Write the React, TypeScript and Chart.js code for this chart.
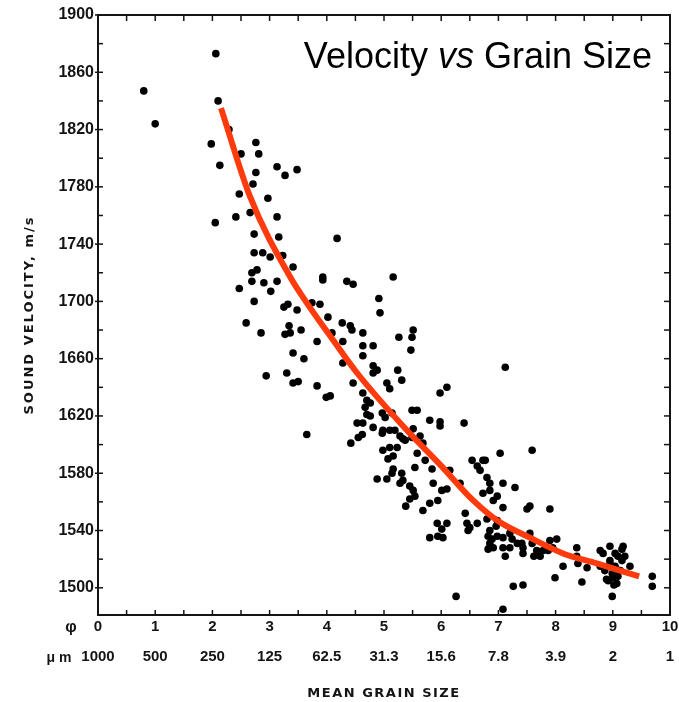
import React, { useEffect, useRef } from 'react';
import { Chart, registerables } from 'chart.js';

Chart.register(...registerables);

// ---- axis ticks ----
const phiTicks = [0, 1, 2, 3, 4, 5, 6, 7, 8, 9, 10];
const micronLabels = ['1000', '500', '250', '125', '62.5', '31.3', '15.6', '7.8', '3.9', '2', '1'];
const velocityTicks = [1500, 1540, 1580, 1620, 1660, 1700, 1740, 1780, 1820, 1860, 1900];

// ---- text ----
const titleParts = ['Velocity ', 'vs', ' Grain Size'];
const yTitle = 'SOUND VELOCITY, m/s';
const xTitle = 'MEAN GRAIN SIZE';
const phiSymbol = 'φ';
const micronSymbol = 'μ m';

// ---- scatter samples (mean grain size in phi, sound velocity m/s) ----
const grainPhi = [
  0.80, 1.00, 2.06, 2.10, 2.29, 1.98, 2.76, 2.50, 2.81, 2.13,
  2.76, 3.13, 3.27, 3.48, 2.71, 2.47, 2.97, 2.05, 2.41, 2.66,
  3.13, 2.73, 3.16, 4.18, 2.73, 2.88, 3.01, 3.23, 3.41, 2.69,
  2.78, 3.93, 3.93, 2.47, 2.69, 2.90, 3.13, 3.02, 2.73, 4.35,
  4.46, 2.59, 2.85, 3.25, 3.32, 3.48, 3.74, 3.88, 4.02, 3.34,
  3.27, 3.36, 3.55, 3.83, 3.41, 3.60, 2.94, 3.30, 3.41, 3.50,
  3.83, 3.99, 4.06, 3.65, 4.09, 4.27, 4.41, 4.44, 4.28, 4.28,
  4.46, 4.53, 4.42, 4.55,
  5.16, 4.91, 4.93, 4.63, 5.26, 5.51, 5.49, 5.47, 4.63, 4.81,
  4.63, 4.81, 4.88, 4.81, 5.24, 5.31, 5.05, 5.10, 4.63, 4.70,
  4.67, 5.98, 6.10, 5.49, 5.58, 4.97, 5.02, 4.76, 4.63, 4.81,
  4.98, 5.80, 5.98, 5.98, 6.40, 4.62, 5.19, 5.28, 5.37, 4.98,
  5.07, 5.23, 5.58, 5.68, 5.51, 7.03, 7.59, 7.12, 6.54, 6.73,
  4.70, 4.76, 5.14, 5.10, 5.10, 5.16, 5.72, 5.16, 5.14, 5.31,
  5.33, 5.54, 4.88, 5.05, 5.28, 5.45, 5.51, 5.54, 5.45, 5.84,
  5.86, 6.01, 6.10, 6.15, 6.33, 5.80, 5.94, 5.68, 5.38, 5.93,
  6.10, 6.01, 5.94, 5.80, 6.03, 6.42, 6.45, 6.47, 6.63, 6.68,
  6.77, 6.80, 6.85, 6.73, 6.85, 6.98, 6.91, 6.80, 6.98, 6.82,
  6.85, 6.82, 6.26, 4.97, 5.33, 5.49, 5.63,
  7.08, 7.26, 7.43, 7.99, 8.46, 8.99, 9.69, 9.69, 9.30, 8.78,
  8.95, 9.18, 8.83, 8.95, 9.04, 9.13, 8.86, 8.99, 9.09, 8.92,
  9.16, 9.21, 8.78, 9.04, 9.16, 9.09, 9.00, 8.89, 9.07, 9.02,
  8.95, 9.11, 8.37, 8.39, 8.55, 8.37, 8.13, 7.87, 8.02, 7.90,
  7.55, 7.50, 7.29, 7.08, 7.08, 6.85, 6.89, 6.98, 7.08, 7.24,
  7.33, 7.41, 7.55, 7.59, 7.67, 7.78, 6.63, 6.50, 6.96, 7.08,
  7.20, 6.91, 7.20, 7.43, 7.95, 7.90, 7.12, 7.43, 7.62, 7.73,
];
const velocity = [
  1847, 1824, 1873, 1840, 1820, 1810, 1811, 1803, 1803, 1795,
  1790, 1794, 1788, 1792, 1782, 1775, 1772, 1755, 1759, 1762,
  1759, 1747, 1745, 1744, 1734, 1734, 1731, 1732, 1724, 1720,
  1722, 1717, 1715, 1709, 1714, 1713, 1714, 1707, 1700, 1714,
  1712, 1685, 1678, 1696, 1698, 1694, 1699, 1698, 1689, 1683,
  1677, 1678, 1680, 1672, 1664, 1660, 1648, 1650, 1643, 1644,
  1641, 1633, 1634, 1607, 1678, 1685, 1683, 1680, 1672, 1657,
  1643, 1615, 1601, 1605,
  1717, 1702, 1692, 1678, 1675, 1680, 1675, 1666, 1669, 1669,
  1662, 1655, 1652, 1650, 1652, 1645, 1643, 1639, 1636, 1631,
  1626, 1636, 1640, 1624, 1624, 1622, 1619, 1620, 1615, 1612,
  1610, 1617, 1616, 1613, 1615, 1607, 1610, 1606, 1603, 1596,
  1590, 1598, 1594, 1601, 1611, 1594, 1596, 1654, 1589, 1589,
  1621, 1629, 1622, 1610, 1598, 1592, 1589, 1583, 1580, 1580,
  1575, 1584, 1576, 1576, 1573, 1571, 1568, 1564, 1562, 1583,
  1573, 1568, 1569, 1582, 1573, 1559, 1561, 1554, 1557, 1545,
  1545, 1541, 1536, 1535, 1535, 1552, 1545, 1540, 1585, 1582,
  1589, 1577, 1573, 1566, 1568, 1564, 1561, 1548, 1547, 1536,
  1531, 1527, 1494, 1608, 1604, 1605, 1606,
  1485, 1501, 1502, 1507, 1504, 1494, 1508, 1501, 1515, 1526,
  1529, 1529, 1524, 1519, 1515, 1512, 1512, 1510, 1508, 1505,
  1519, 1522, 1515, 1524, 1527, 1522, 1507, 1506, 1503, 1502,
  1517, 1512, 1528, 1517, 1514, 1522, 1515, 1526, 1534, 1555,
  1557, 1555, 1570, 1573, 1556, 1540, 1534, 1536, 1528, 1534,
  1531, 1531, 1538, 1531, 1526, 1526, 1545, 1542, 1543, 1535,
  1538, 1528, 1528, 1528, 1528, 1533, 1522, 1524, 1522, 1522,
];

// ---- fitted curve ----
const fitPhi = [2.15, 2.66, 3.36, 3.65, 4.11, 4.53, 5.40, 5.98, 6.56, 6.98, 7.55, 8.13, 8.72, 9.46];
const fitVelocity = [1835, 1773, 1717, 1699, 1673, 1650, 1610, 1586, 1561, 1547, 1535, 1524, 1517, 1508];

const TICK_FONT = '"Liberation Sans", Arial, sans-serif';
const LABEL_FONT = '"DejaVu Sans", "Liberation Sans", sans-serif';
const INK = '#141414';
const RED = '#ff3a0c';

const decorPlugin = {
  id: 'decor',
  afterDatasetsDraw(chart: any) {
    const { ctx, chartArea: a, scales } = chart;
    const xs = scales.x;
    const ys = scales.y;
    const x2 = scales.x2;
    ctx.save();
    ctx.strokeStyle = INK;
    // frame
    ctx.lineWidth = 2;
    ctx.strokeRect(a.left, a.top, a.right - a.left, a.bottom - a.top);
    // ticks
    ctx.lineWidth = 1.5;
    const line = (x1: number, y1: number, x2p: number, y2: number) => {
      ctx.beginPath();
      ctx.moveTo(x1, y1);
      ctx.lineTo(x2p, y2);
      ctx.stroke();
    };
    for (let v = 0; v <= 10.001; v += 0.5) {
      const px = xs.getPixelForValue(v);
      line(px, a.bottom, px, a.bottom - 5);
      line(px, a.top, px, a.top + 6);
    }
    for (let v = 1500; v <= 1900; v += 20) {
      const py = ys.getPixelForValue(v);
      const major = (v - 1500) % 40 === 0;
      line(a.left - (major ? 3 : 0), py, a.left + 5, py);
      line(a.right, py, a.right - 6, py);
    }
    // title
    ctx.fillStyle = '#000';
    ctx.textBaseline = 'alphabetic';
    ctx.textAlign = 'left';
    const fonts = [
      '36px "Liberation Sans", Arial, sans-serif',
      'italic 36px "Liberation Sans", Arial, sans-serif',
      '36px "Liberation Sans", Arial, sans-serif',
    ];
    let total = 0;
    const widths = titleParts.map((t, i) => {
      ctx.font = fonts[i];
      const w = ctx.measureText(t).width;
      total += w;
      return w;
    });
    let tx = a.right - 18 - total;
    const ty = a.top + 53;
    titleParts.forEach((t, i) => {
      ctx.font = fonts[i];
      ctx.fillText(t, tx, ty);
      tx += widths[i];
    });
    // axis symbols and titles
    ctx.fillStyle = INK;
    ctx.textAlign = 'center';
    ctx.textBaseline = 'middle';
    ctx.font = 'bold 16px ' + TICK_FONT;
    const x0 = xs.getPixelForValue(0);
    ctx.fillText(phiSymbol, x0 - 27, xs.top + 13);
    ctx.font = 'bold 14px ' + TICK_FONT;
    ctx.fillText(micronSymbol, x0 - 39, x2.top + 13);

    (ctx as any).letterSpacing = '1.5px';
    ctx.font = 'bold 13px ' + LABEL_FONT;
    ctx.fillText(xTitle, (a.left + a.right) / 2, 694);

    ctx.save();
    (ctx as any).letterSpacing = '2px';
    ctx.translate(30, (a.top + a.bottom) / 2);
    ctx.rotate(-Math.PI / 2);
    ctx.font = 'bold 13px ' + LABEL_FONT;
    ctx.fillText(yTitle, 0, 0);
    ctx.restore();
    (ctx as any).letterSpacing = '0px';
    ctx.restore();
  },
};

export default function App() {
  const ref = useRef<HTMLCanvasElement>(null);

  useEffect(() => {
    const canvas = ref.current;
    if (!canvas) return;
    const points = grainPhi.map((x, i) => ({ x, y: velocity[i] }));
    const curve = fitPhi.map((x, i) => ({ x, y: fitVelocity[i] }));
    const tickFont = { family: TICK_FONT, size: 15, weight: 'bold' as const };
    const yTickFont = { family: TICK_FONT, size: 16, weight: 'bold' as const };
    const chart = new Chart(canvas, {
      type: 'scatter',
      data: {
        datasets: [
          {
            type: 'line' as any,
            data: curve,
            borderColor: RED,
            backgroundColor: RED,
            borderWidth: 6,
            pointRadius: 0,
            showLine: true,
            fill: false,
            cubicInterpolationMode: 'monotone',
            order: 0,
          } as any,
          {
            data: points,
            backgroundColor: '#000',
            borderWidth: 0,
            pointRadius: 3.8,
            order: 1,
          },
        ],
      },
      options: {
        responsive: false,
        devicePixelRatio: 1,
        animation: false,
        layout: { padding: { top: 15, right: 9, left: 0, bottom: 0 } },
        plugins: {
          legend: { display: false },
          title: { display: false },
          tooltip: { enabled: false },
        },
        scales: {
          x: {
            type: 'linear',
            position: 'bottom',
            weight: 0,
            min: 0,
            max: 10,
            grid: { display: false, drawTicks: false },
            border: { display: false },
            ticks: { font: tickFont, color: INK, padding: 3, maxRotation: 0, autoSkip: false, callback: (v: any) => String(v) },
            afterBuildTicks: (s: any) => {
              s.ticks = phiTicks.map((v) => ({ value: v }));
            },
            afterFit: (s: any) => {
              s.height = 30;
              s.paddingRight = 0;
            },
          },
          x2: {
            type: 'linear',
            axis: 'x',
            position: 'bottom',
            weight: 1,
            min: 0,
            max: 10,
            grid: { display: false, drawTicks: false },
            border: { display: false },
            ticks: {
              font: tickFont,
              color: INK,
              padding: 3,
              maxRotation: 0,
              autoSkip: false,
              callback: (v: any) => micronLabels[phiTicks.indexOf(Number(v))] ?? '',
            },
            afterBuildTicks: (s: any) => {
              s.ticks = phiTicks.map((v) => ({ value: v }));
            },
            afterFit: (s: any) => {
              s.height = 57;
              s.paddingRight = 0;
            },
          },
          y: {
            type: 'linear',
            min: 1481,
            max: 1900,
            grid: { display: false, drawTicks: false },
            border: { display: false },
            ticks: { font: yTickFont, color: INK, padding: 4, autoSkip: false, callback: (v: any) => String(v) },
            afterBuildTicks: (s: any) => {
              s.ticks = velocityTicks.map((v) => ({ value: v }));
            },
            afterFit: (s: any) => {
              s.width = 98;
            },
          },
        } as any,
      },
      plugins: [decorPlugin],
    });
    return () => chart.destroy();
  }, []);

  return (
    <div style={{ position: 'absolute', left: 0, top: 0, width: 679, height: 702, background: '#fff' }}>
      <canvas ref={ref} width={679} height={702} style={{ display: 'block', width: 679, height: 702 }} />
    </div>
  );
}
